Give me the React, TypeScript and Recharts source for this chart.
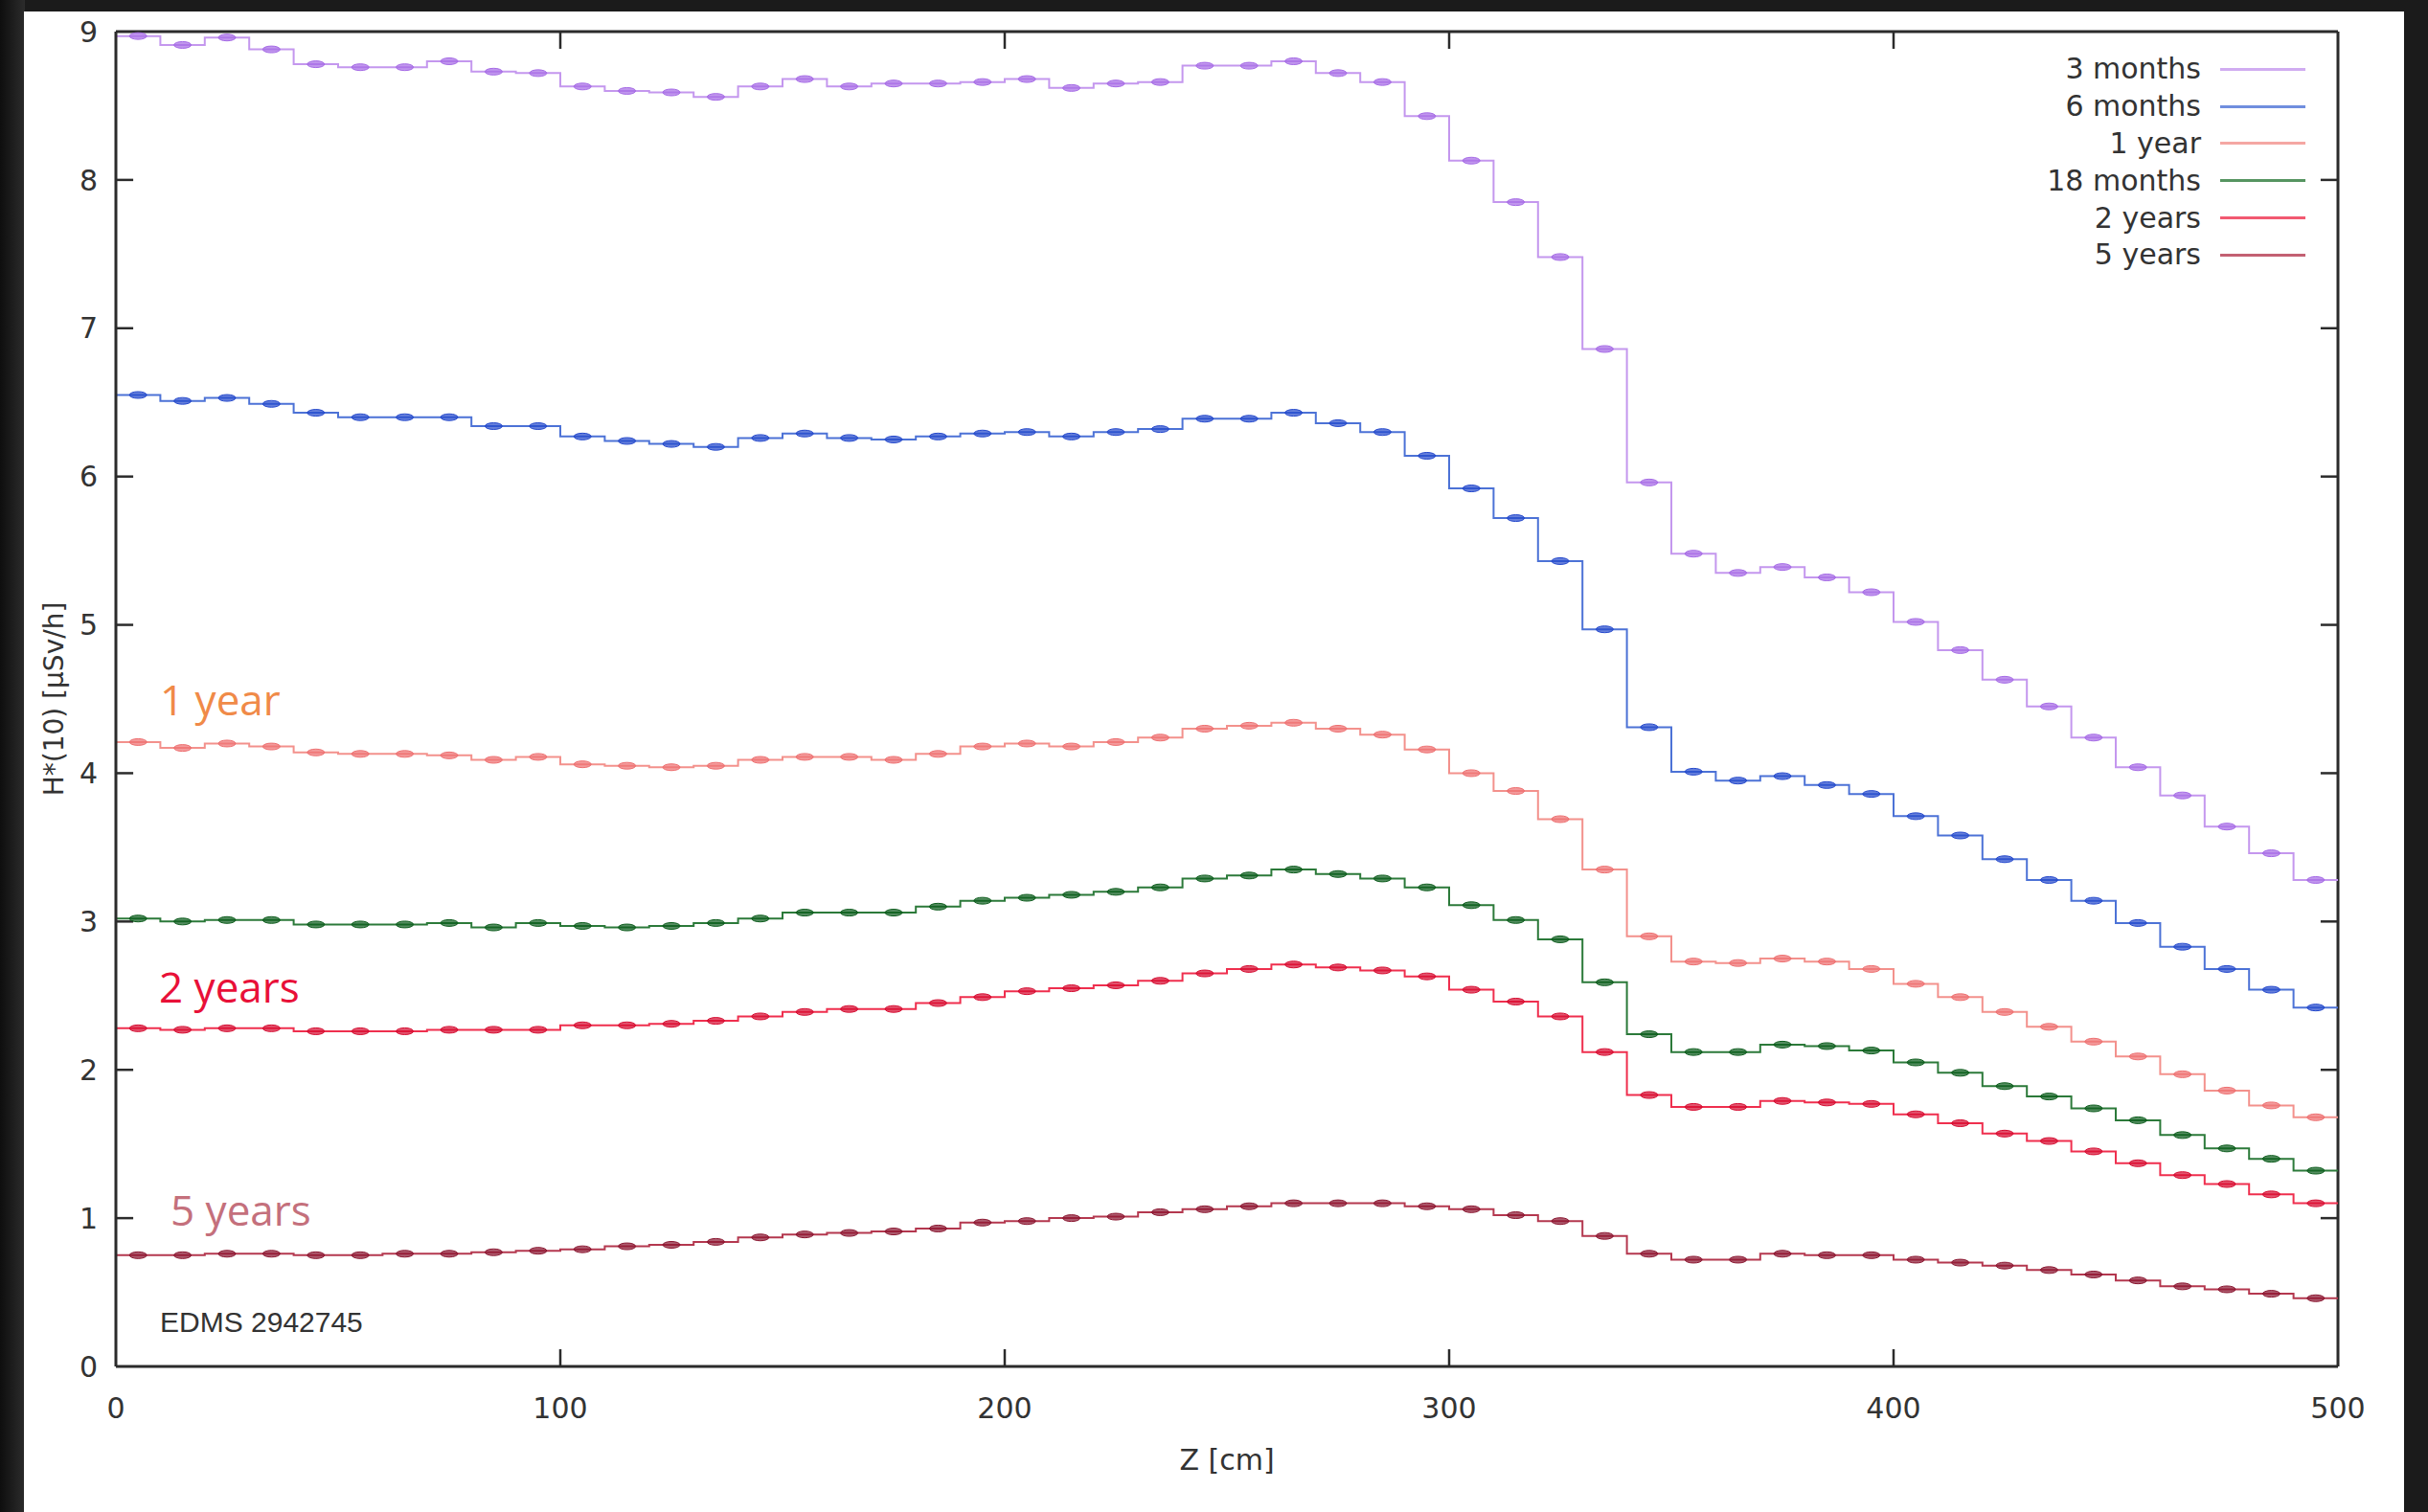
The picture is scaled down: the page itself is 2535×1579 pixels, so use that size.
import React from 'react';
import {
  ComposedChart,
  Line,
  XAxis,
  YAxis,
  Legend,
  ReferenceLine,
} from 'recharts';

// bin edges: 10 cm bins from 0 to 500 cm
const binStarts = [
  0, 10, 20, 30, 40, 50, 60, 70, 80, 90, 100, 110, 120, 130, 140, 150, 160, 170, 180, 190,
  200, 210, 220, 230, 240, 250, 260, 270, 280, 290, 300, 310, 320, 330, 340, 350, 360, 370, 380, 390,
  400, 410, 420, 430, 440, 450, 460, 470, 480, 490,
];

const months3 = [
  8.97, 8.91, 8.96, 8.88, 8.78, 8.76, 8.76, 8.8, 8.73, 8.72, 8.63, 8.6, 8.59, 8.56, 8.63, 8.68, 8.63, 8.65, 8.65, 8.66,
  8.68, 8.62, 8.65, 8.66, 8.77, 8.77, 8.8, 8.72, 8.66, 8.43, 8.13, 7.85, 7.48, 6.86, 5.96, 5.48, 5.35, 5.39, 5.32, 5.22,
  5.02, 4.83, 4.63, 4.45, 4.24, 4.04, 3.85, 3.64, 3.46, 3.28,
];
const months6 = [
  6.55, 6.51, 6.53, 6.49, 6.43, 6.4, 6.4, 6.4, 6.34, 6.34, 6.27, 6.24, 6.22, 6.2, 6.26, 6.29, 6.26, 6.25, 6.27, 6.29,
  6.3, 6.27, 6.3, 6.32, 6.39, 6.39, 6.43, 6.36, 6.3, 6.14, 5.92, 5.72, 5.43, 4.97, 4.31, 4.01, 3.95, 3.98, 3.92, 3.86,
  3.71, 3.58, 3.42, 3.28, 3.14, 2.99, 2.83, 2.68, 2.54, 2.42,
];
const year1 = [
  4.21, 4.17, 4.2, 4.18, 4.14, 4.13, 4.13, 4.12, 4.09, 4.11, 4.06, 4.05, 4.04, 4.05, 4.09, 4.11, 4.11, 4.09, 4.13, 4.18,
  4.2, 4.18, 4.21, 4.24, 4.3, 4.32, 4.34, 4.3, 4.26, 4.16, 4.0, 3.88, 3.69, 3.35, 2.9, 2.73, 2.72, 2.75, 2.73, 2.68,
  2.58, 2.49, 2.39, 2.29, 2.19, 2.09, 1.97, 1.86, 1.76, 1.68,
];
const months18 = [
  3.02, 3.0, 3.01, 3.01, 2.98, 2.98, 2.98, 2.99, 2.96, 2.99, 2.97, 2.96, 2.97, 2.99, 3.02, 3.06, 3.06, 3.06, 3.1, 3.14,
  3.16, 3.18, 3.2, 3.23, 3.29, 3.31, 3.35, 3.32, 3.29, 3.23, 3.11, 3.01, 2.88, 2.59, 2.24, 2.12, 2.12, 2.17, 2.16, 2.13,
  2.05, 1.98, 1.89, 1.82, 1.74, 1.66, 1.56, 1.47, 1.4, 1.32,
];
const years2 = [
  2.28, 2.27, 2.28, 2.28, 2.26, 2.26, 2.26, 2.27, 2.27, 2.27, 2.3, 2.3, 2.31, 2.33, 2.36, 2.39, 2.41, 2.41, 2.45, 2.49,
  2.53, 2.55, 2.57, 2.6, 2.65, 2.68, 2.71, 2.69, 2.67, 2.63, 2.54, 2.46, 2.36, 2.12, 1.83, 1.75, 1.75, 1.79, 1.78, 1.77,
  1.7, 1.64, 1.57, 1.52, 1.45, 1.37, 1.29, 1.23, 1.16, 1.1,
];
const years5 = [
  0.75, 0.75, 0.76, 0.76, 0.75, 0.75, 0.76, 0.76, 0.77, 0.78, 0.79, 0.81, 0.82, 0.84, 0.87, 0.89, 0.9, 0.91, 0.93, 0.97,
  0.98, 1.0, 1.01, 1.04, 1.06, 1.08, 1.1, 1.1, 1.1, 1.08, 1.06, 1.02, 0.98, 0.88, 0.76, 0.72, 0.72, 0.76, 0.75, 0.75,
  0.72, 0.7, 0.68, 0.65, 0.62, 0.58, 0.54, 0.52, 0.49, 0.46,
];

const xTicks = [0, 100, 200, 300, 400, 500];
const yTicks = [0, 1, 2, 3, 4, 5, 6, 7, 8, 9];

const series = [
  { key: 'm3', name: '3 months', values: months3, line: '#c497ee', mark: '#a56ae6' },
  { key: 'm6', name: '6 months', values: months6, line: '#4c72d6', mark: '#2448cc' },
  { key: 'y1', name: '1 year', values: year1, line: '#f3918c', mark: '#ee6f70' },
  { key: 'm18', name: '18 months', values: months18, line: '#2c7a3a', mark: '#0c5c1c' },
  { key: 'y2', name: '2 years', values: years2, line: '#ef2f4e', mark: '#d60b30' },
  { key: 'y5', name: '5 years', values: years5, line: '#b4384f', mark: '#8a1630' },
];

// histogram table: bin edges + bin centres (centres carry the error-bar markers)
const rows: any[] = [];
binStarts.forEach((z, i) => {
  const edge: any = { z };
  const mid: any = { z: z + 5 };
  series.forEach((s) => {
    edge[s.key] = s.values[i];
    mid[s.key] = s.values[i];
  });
  rows.push(edge, mid);
});
const last: any = { z: 500 };
series.forEach((s) => {
  last[s.key] = s.values[s.values.length - 1];
});
rows.push(last);

const AXIS = '#2b2b2b';
const FONT = '"DejaVu Sans", sans-serif';

const makeDot = (color: string) => (props: any) => {
  const { cx, cy, payload, index } = props;
  if (cx == null || cy == null || payload.z % 10 !== 5) return <g key={`d-${index}`} />;
  return (
    <g key={`d-${index}`}>
      <ellipse cx={cx} cy={cy} rx={9} ry={3.5} fill={color} fillOpacity={0.7} stroke={color} strokeWidth={1} />
    </g>
  );
};

// keep the legend in plotting order (recharts sorts by name otherwise)
const renderLegend = (props: any) => {
  const payload = [...(props.payload || [])].sort(
    (a: any, b: any) =>
      series.findIndex((s) => s.name === a.value) - series.findIndex((s) => s.name === b.value),
  );
  return (
    <div style={{ fontFamily: FONT, fontSize: 30, color: '#333' }}>
      {payload.map((entry: any) => (
        <div key={entry.value} style={{ display: 'flex', alignItems: 'center', height: 38.8 }}>
          <span style={{ width: 348, textAlign: 'right', lineHeight: '38px' }}>{entry.value}</span>
          <span style={{ width: 20 }} />
          <span style={{ width: 89, height: 3, background: entry.color, opacity: 0.8 }} />
        </div>
      ))}
    </div>
  );
};

const tickLenX = 3.9; // cm
const tickLenY = 0.116; // µSv/h

export default function App() {
  return (
    <div style={{ position: 'absolute', left: 0, top: 0, width: 2535, height: 1579, background: '#1b1b1b', overflow: 'hidden' }}>
      <div
        style={{
          position: 'absolute',
          left: 0,
          top: 0,
          width: 26,
          height: 1579,
          background: 'linear-gradient(to right, #0e0e0e, #2c2c2c)',
        }}
      />
      <div style={{ position: 'absolute', left: 25, top: 12, width: 2485, height: 1567, background: '#ffffff' }} />

      <div style={{ position: 'absolute', left: 0, top: 0 }}>
        <ComposedChart
          width={2535}
          height={1579}
          data={rows}
          margin={{ top: 33, right: 94, bottom: 0, left: 0 }}
        >
          <XAxis
            dataKey="z"
            type="number"
            domain={[0, 500]}
            ticks={xTicks}
            allowDataOverflow
            height={152}
            tickSize={0}
            tickMargin={33}
            tickLine={false}
            axisLine={{ stroke: AXIS, strokeWidth: 3 }}
            tick={{ fill: '#333', fontSize: 30, fontFamily: FONT }}
            label={{ value: 'Z [cm]', position: 'insideBottom', offset: 44, fill: '#333', fontSize: 30, fontFamily: FONT }}
          />
          <YAxis
            type="number"
            domain={[0, 9]}
            ticks={yTicks}
            allowDataOverflow
            width={121}
            tickSize={0}
            tickMargin={19}
            tickLine={false}
            axisLine={{ stroke: AXIS, strokeWidth: 3 }}
            tick={{ fill: '#333', fontSize: 30, fontFamily: FONT }}
            label={{
              value: 'H*(10) [µSv/h]',
              angle: -90,
              position: 'insideLeft',
              offset: 56,
              fill: '#333',
              fontSize: 28,
              fontFamily: FONT,
              style: { textAnchor: 'middle' },
            }}
          />

          {/* box border (top, right) */}
          <ReferenceLine y={9} stroke={AXIS} strokeWidth={3} />
          <ReferenceLine x={500} stroke={AXIS} strokeWidth={3} />

          {/* inward ticks on all four sides */}
          {yTicks.slice(1, -1).map((v) => (
            <ReferenceLine key={`yl-${v}`} segment={[{ x: 0, y: v }, { x: tickLenX, y: v }]} stroke={AXIS} strokeWidth={2.5} />
          ))}
          {yTicks.slice(1, -1).map((v) => (
            <ReferenceLine key={`yr-${v}`} segment={[{ x: 500 - tickLenX, y: v }, { x: 500, y: v }]} stroke={AXIS} strokeWidth={2.5} />
          ))}
          {xTicks.slice(1, -1).map((v) => (
            <ReferenceLine key={`xb-${v}`} segment={[{ x: v, y: 0 }, { x: v, y: tickLenY }]} stroke={AXIS} strokeWidth={2.5} />
          ))}
          {xTicks.slice(1, -1).map((v) => (
            <ReferenceLine key={`xt-${v}`} segment={[{ x: v, y: 9 - tickLenY }, { x: v, y: 9 }]} stroke={AXIS} strokeWidth={2.5} />
          ))}

          {series.map((s) => (
            <Line
              key={s.key}
              dataKey={s.key}
              name={s.name}
              type="stepAfter"
              stroke={s.line}
              strokeWidth={2}
              dot={makeDot(s.mark)}
              activeDot={false}
              isAnimationActive={false}
            />
          ))}

          <Legend
            layout="vertical"
            align="center"
            verticalAlign="middle"
            wrapperStyle={{ left: 1950, top: 53, width: 470 }}
            content={renderLegend}
          />
        </ComposedChart>
      </div>

      {/* in-plot annotations */}
      <div style={{ position: 'absolute', left: 167, top: 700, fontFamily: '"Open Sans", sans-serif', fontSize: 44, color: '#f08a48', lineHeight: '60px' }}>
        1 year
      </div>
      <div style={{ position: 'absolute', left: 166, top: 1000, fontFamily: '"Open Sans", sans-serif', fontSize: 44, color: '#e81038', lineHeight: '60px' }}>
        2 years
      </div>
      <div style={{ position: 'absolute', left: 178, top: 1233, fontFamily: '"Open Sans", sans-serif', fontSize: 44, color: '#c4707c', lineHeight: '60px' }}>
        5 years
      </div>
      <div style={{ position: 'absolute', left: 167, top: 1362, fontFamily: '"Liberation Sans", Arial, sans-serif', fontSize: 30, color: '#333', lineHeight: '38px' }}>
        EDMS 2942745
      </div>
    </div>
  );
}
